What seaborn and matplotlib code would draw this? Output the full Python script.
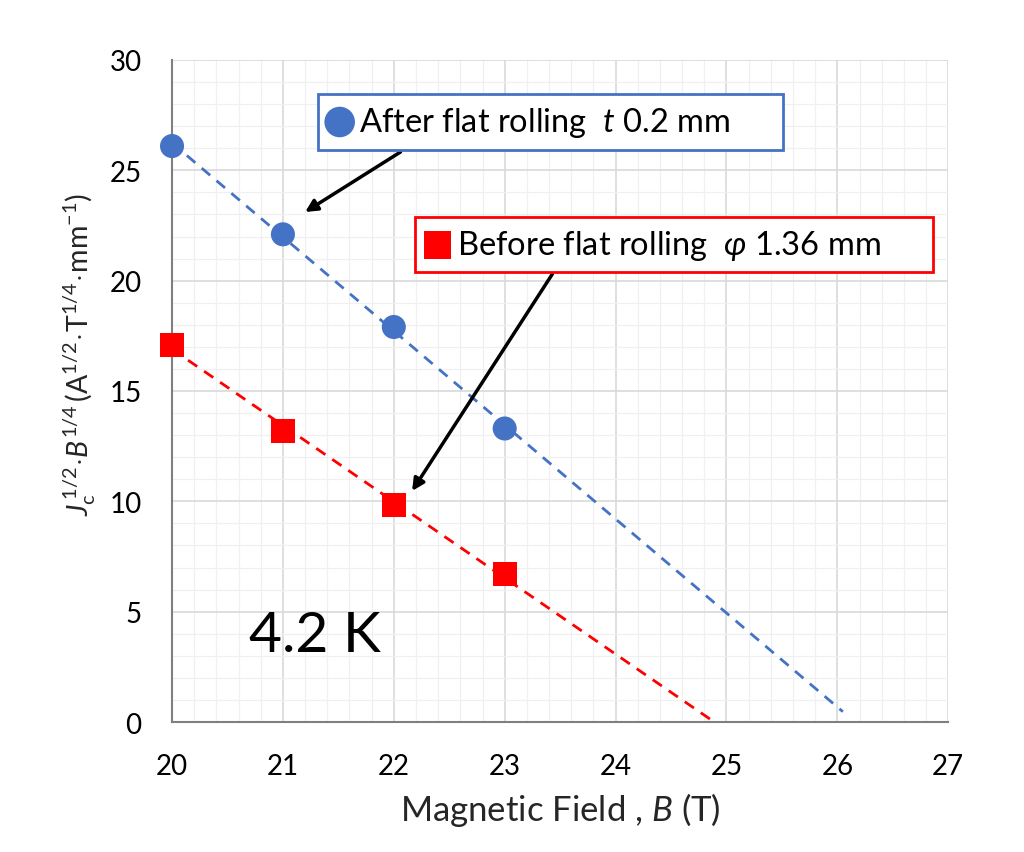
import numpy as np
import pandas as pd
import matplotlib
matplotlib.use("Agg")
import matplotlib.pyplot as plt
import seaborn as sns
from matplotlib.offsetbox import AnnotationBbox, HPacker, TextArea, DrawingArea
from matplotlib.patches import Circle, Rectangle
from matplotlib.ticker import MultipleLocator

# Measured values at 4.2 K
field_T = [20, 21, 22, 23]
after_rolling = [26.1, 22.1, 17.9, 13.3]     # flat rolled, t 0.2 mm
before_rolling = [17.1, 13.2, 9.85, 6.7]     # round wire, phi 1.36 mm
x_ticks = [20, 21, 22, 23, 24, 25, 26, 27]
y_ticks = [0, 5, 10, 15, 20, 25, 30]
fit_end = {"after": 26.05, "before": 24.88}

BLUE = "#4472C4"
RED = "#FF0000"

sns.set_theme(style="white")
plt.rcParams["font.family"] = ["Lato", "DejaVu Sans"]
plt.rcParams["mathtext.fontset"] = "custom"
plt.rcParams["mathtext.rm"] = "Lato"
plt.rcParams["mathtext.it"] = "Lato:italic"
plt.rcParams["mathtext.bf"] = "Lato:bold"

df = pd.DataFrame({
    "B": field_T * 2,
    "y": after_rolling + before_rolling,
    "series": ["after"] * 4 + ["before"] * 4,
})

# Linear trend lines extended to higher fields
rows = []
for key, vals in (("after", after_rolling), ("before", before_rolling)):
    k, b = np.polyfit(field_T, vals, 1)
    xs = np.array([field_T[0], fit_end[key]])
    for xv in xs:
        rows.append({"B": xv, "y": k * xv + b, "series": key})
fit = pd.DataFrame(rows)

fig = plt.figure(figsize=(10.24, 8.53), dpi=100)
ax = fig.add_axes([0.168, 0.1524, 0.758, 0.7761])

pal = {"after": BLUE, "before": RED}
sns.lineplot(data=fit, x="B", y="y", hue="series", palette=pal, ax=ax,
             legend=False, linewidth=2, zorder=3)
for line in ax.lines:
    line.set_dashes([4, 3])
sns.scatterplot(data=df, x="B", y="y", hue="series", style="series",
                markers={"after": "o", "before": "s"}, palette=pal,
                s=300, linewidth=0, ax=ax, legend=False, zorder=4,
                clip_on=False)

ax.set_xlim(20, 27)
ax.set_ylim(0, 30)
ax.set_xticks(x_ticks)
ax.set_yticks(y_ticks)
ax.xaxis.set_minor_locator(MultipleLocator(0.2))
ax.yaxis.set_minor_locator(MultipleLocator(1))
ax.grid(which="major", color="#D9D9D9", linewidth=1.2)
ax.grid(which="minor", color="#F0F0F0", linewidth=0.9)
ax.set_axisbelow(True)

for side in ("top", "right"):
    ax.spines[side].set_visible(False)
for side in ("left", "bottom"):
    ax.spines[side].set_color("#7F7F7F")
    ax.spines[side].set_linewidth(1.5)
ax.tick_params(axis="both", which="major", direction="in", length=6,
               width=1.2, color="#404040", labelsize=20,
               labelcolor="black")
ax.tick_params(axis="x", which="major", pad=22)
ax.tick_params(axis="y", which="major", pad=22)
ax.tick_params(axis="both", which="minor", length=0)

ax.set_xlabel("Magnetic Field , $B$ (T)", fontsize=25, labelpad=8)
ax.set_ylabel(r"$J_\mathrm{c}^{\,1/2}\!\cdot\!B^{1/4}\,(\mathrm{A}^{1/2}\!\cdot\!\mathrm{T}^{1/4}\!\cdot\!\mathrm{mm}^{-1})$",
              fontsize=20.5)
ax.yaxis.set_label_coords(-0.096, 0.556)

ax.text(20.69, 3.23, "4.2 K", fontsize=41, va="baseline", ha="left", color="black")


def label_box(x, y, marker, color, text, edge):
    da = DrawingArea(22, 22, 0, 0)
    if marker == "o":
        da.add_artist(Circle((11, 11), 11, fc=color, ec="none"))
    else:
        da.add_artist(Rectangle((1, 1), 20, 20, fc=color, ec="none"))
    ta = TextArea(text, textprops=dict(fontsize=23.5, color="black"))
    tail = DrawingArea(30, 30, 0, 0)
    pack = HPacker(children=[da, ta, tail], align="center", pad=0, sep=3)
    ab = AnnotationBbox(pack, (x, y), xycoords="data", frameon=True,
                        pad=0.45, box_alignment=(0.5, 0.5), zorder=6)
    ab.patch.set_edgecolor(edge)
    ab.patch.set_linewidth(2)
    ab.patch.set_facecolor("white")
    ax.add_artist(ab)


label_box(23.41, 27.19, "o", BLUE, "After flat rolling  $t$ 0.2 mm", BLUE)
label_box(24.53, 21.63, "s", RED, r"Before flat rolling  $\varphi$ 1.36 mm", RED)

arrow = dict(arrowstyle="-|>", color="black", lw=2.5, mutation_scale=18,
             shrinkA=0, shrinkB=0)
ax.annotate("", xy=(21.20, 23.11), xytext=(22.06, 25.83), arrowprops=arrow, zorder=5)
ax.annotate("", xy=(22.165, 10.47), xytext=(23.43, 20.3), arrowprops=arrow, zorder=5)

fig.savefig("out.png", dpi=100)
